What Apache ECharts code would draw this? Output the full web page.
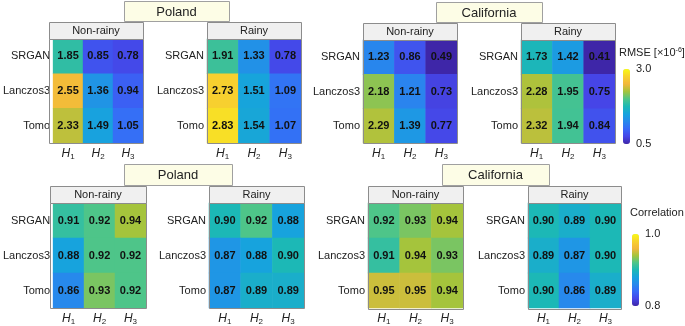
<!DOCTYPE html>
<html>
<head>
<meta charset="utf-8">
<script src="https://cdn.jsdelivr.net/npm/echarts@6/dist/echarts.min.js"></script>
<style>
  html, body { margin: 0; padding: 0; background: #fff; }
  #chart { width: 685px; height: 326px; }
</style>
</head>
<body>
<div id="chart"></div>
<script>
  /** Data */
  var rows = ['SRGAN', 'Lanczos3', 'Tomo'];
  var cols = ['1', '2', '3'];   // shown as H1, H2, H3

  var rmsePolandNonRainy = [[1.85, 0.85, 0.78], [2.55, 1.36, 0.94], [2.33, 1.49, 1.05]];
  var rmsePolandRainy    = [[1.91, 1.33, 0.78], [2.73, 1.51, 1.09], [2.83, 1.54, 1.07]];
  var rmseCalNonRainy    = [[1.23, 0.86, 0.49], [2.18, 1.21, 0.73], [2.29, 1.39, 0.77]];
  var rmseCalRainy       = [[1.73, 1.42, 0.41], [2.28, 1.95, 0.75], [2.32, 1.94, 0.84]];

  var corrPolandNonRainy = [[0.91, 0.92, 0.94], [0.88, 0.92, 0.92], [0.86, 0.93, 0.92]];
  var corrPolandRainy    = [[0.90, 0.92, 0.88], [0.87, 0.88, 0.90], [0.87, 0.89, 0.89]];
  var corrCalNonRainy    = [[0.92, 0.93, 0.94], [0.91, 0.94, 0.93], [0.95, 0.95, 0.94]];
  var corrCalRainy       = [[0.90, 0.89, 0.90], [0.89, 0.87, 0.90], [0.90, 0.86, 0.89]];

  var rmseRange = [0.5, 3.0];
  var corrRange = [0.8, 1.0];

  var matrices = [rmsePolandNonRainy, rmsePolandRainy, rmseCalNonRainy, rmseCalRainy,
                  corrPolandNonRainy, corrPolandRainy, corrCalNonRainy, corrCalRainy];
  var headers = ['Non-rainy', 'Rainy', 'Non-rainy', 'Rainy', 'Non-rainy', 'Rainy', 'Non-rainy', 'Rainy'];
  var regions = ['Poland', 'California', 'Poland', 'California'];

  /** Layout */
  var FONT = 'Liberation Sans, Arial, sans-serif';
  var panels = [
    {l: 49,  t: 39,  w: 94, h: 104},
    {l: 207, t: 39,  w: 94, h: 104},
    {l: 363, t: 40,  w: 94, h: 103},
    {l: 521, t: 40,  w: 94, h: 103},
    {l: 50,  t: 203, w: 96, h: 105},
    {l: 209, t: 203, w: 95, h: 105},
    {l: 368, t: 203, w: 95, h: 106},
    {l: 528, t: 203, w: 93, h: 106}
  ];
  var titleBoxes = [
    {l: 124, t: 1,   w: 105, h: 20},
    {l: 436, t: 2,   w: 106, h: 20},
    {l: 124, t: 164, w: 108, h: 21},
    {l: 442, t: 164, w: 107, h: 21}
  ];
  var colorbars = [
    {l: 623, t: 69,  w: 7, h: 75, range: rmseRange},
    {l: 632, t: 234, w: 7, h: 72, range: corrRange}
  ];

  // parula-like
  var parula = ['#3e26a8', '#4645e7', '#3868f8', '#2789ec', '#17a3dd', '#1cb8b6',
                '#4ec589', '#a5c43c', '#f2b73c', '#f7d22e', '#f9fa14'];

  function clamp(v, r) { return Math.max(r[0], Math.min(r[1], v)); }

  function boxText(x, y, text, size) {
    return {
      type: 'text', z: 120, x: x, y: y,
      style: {text: text, font: size + 'px ' + FONT, fill: '#222',
              textAlign: 'center', textVerticalAlign: 'middle'}
    };
  }

  var grids = [], xAxes = [], yAxes = [], series = [], graphic = [];

  panels.forEach(function(p, i) {
    var range = i < 4 ? rmseRange : corrRange;
    grids.push({left: p.l, top: p.t, width: p.w, height: p.h});
    xAxes.push({
      type: 'category', gridIndex: i, data: cols,
      axisLine: {show: false}, axisTick: {show: false},
      axisLabel: {
        margin: 3, interval: 0,
        formatter: function(v) { return '{h|H}{s|' + v + '}'; },
        rich: {
          h: {fontFamily: FONT, fontSize: 12, fontStyle: 'italic', color: '#222'},
          s: {fontFamily: FONT, fontSize: 8, color: '#222', padding: [7, 0, 0, 0]}
        }
      }
    });
    yAxes.push({
      type: 'category', gridIndex: i, data: rows, inverse: true,
      axisLine: {show: false}, axisTick: {show: false},
      axisLabel: {margin: 3, interval: 0, fontFamily: FONT, fontSize: 11, color: '#222'}
    });
    var data = [];
    matrices[i].forEach(function(row, r) {
      row.forEach(function(v, c) { data.push([c, r, v, clamp(v, range)]); });
    });
    series.push({
      type: 'heatmap', xAxisIndex: i, yAxisIndex: i, data: data,
      label: {
        show: true, fontFamily: FONT, fontSize: 11, fontWeight: 'bold', color: '#111',
        formatter: function(d) { return d.value[2].toFixed(2); }
      },
      itemStyle: {borderWidth: 0}
    });
    // frame around heatmap
    graphic.push({
      type: 'rect', z: 100,
      shape: {x: p.l + 0.5, y: p.t + 0.5, width: p.w, height: p.h},
      style: {fill: null, stroke: '#8c8c8c', lineWidth: 1}
    });
    // condition header
    graphic.push({
      type: 'rect', z: 100,
      shape: {x: p.l + 0.5, y: p.t - 16.5, width: p.w, height: 17},
      style: {fill: '#f0f0f0', stroke: '#8c8c8c', lineWidth: 1}
    });
    graphic.push(boxText(p.l + p.w / 2, p.t - 8, headers[i], 11));
  });

  titleBoxes.forEach(function(b, i) {
    graphic.push({
      type: 'rect', z: 110,
      shape: {x: b.l + 0.5, y: b.t + 0.5, width: b.w, height: b.h},
      style: {fill: '#fdfde6', stroke: '#a0a0a0', lineWidth: 1}
    });
    graphic.push(boxText(b.l + b.w / 2, b.t + b.h / 2 + 1, regions[i], 13));
  });

  // colorbar axes (labels only)
  colorbars.forEach(function(cb, k) {
    var gi = panels.length + k;
    grids.push({left: cb.l, top: cb.t, width: cb.w, height: cb.h});
    xAxes.push({type: 'value', gridIndex: gi, show: false});
    yAxes.push({
      type: 'value', gridIndex: gi, position: 'right',
      min: cb.range[0], max: cb.range[1], interval: cb.range[1] - cb.range[0],
      axisLine: {show: false}, axisTick: {show: false}, splitLine: {show: false},
      axisLabel: {margin: 6, fontFamily: FONT, fontSize: 11, color: '#222',
        formatter: function(v) { return v.toFixed(1); }}
    });
  });

  graphic.push({
    type: 'text', z: 120, x: 619, y: 53,
    style: {
      text: 'RMSE [×10{sup|-6}]', font: '11px ' + FONT, fill: '#222', textVerticalAlign: 'middle',
      rich: {sup: {fontSize: 7, fontFamily: FONT, fill: '#222', padding: [0, 0, 6, 0]}}
    }
  });
  graphic.push({
    type: 'text', z: 120, x: 630, y: 213,
    style: {text: 'Correlation', font: '11px ' + FONT, fill: '#222', textVerticalAlign: 'middle'}
  });

  var option = {
    animation: false,
    grid: grids,
    xAxis: xAxes,
    yAxis: yAxes,
    visualMap: [
      {
        type: 'continuous', seriesIndex: [0, 1, 2, 3], dimension: 3,
        min: rmseRange[0], max: rmseRange[1], calculable: false,
        orient: 'vertical', left: colorbars[0].l, top: colorbars[0].t, padding: 0,
        itemWidth: colorbars[0].w, itemHeight: colorbars[0].h,
        text: null, showLabel: false,
        inRange: {color: parula}
      },
      {
        type: 'continuous', seriesIndex: [4, 5, 6, 7], dimension: 3,
        min: corrRange[0], max: corrRange[1], calculable: false,
        orient: 'vertical', left: colorbars[1].l, top: colorbars[1].t, padding: 0,
        itemWidth: colorbars[1].w, itemHeight: colorbars[1].h,
        text: null, showLabel: false,
        inRange: {color: parula}
      }
    ],
    series: series,
    graphic: graphic
  };

  echarts.init(document.getElementById('chart')).setOption(option);
</script>
</body>
</html>
